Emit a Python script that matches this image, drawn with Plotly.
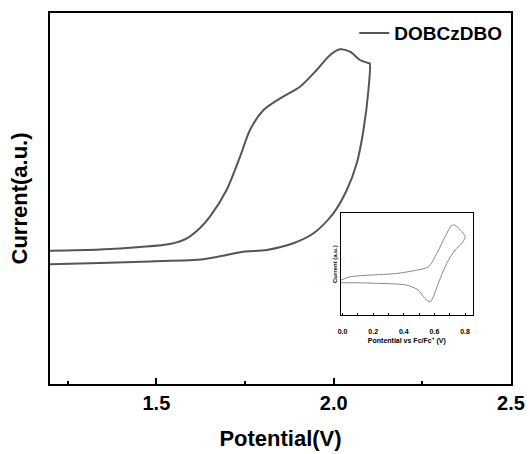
import plotly.graph_objects as go

# Main CV curve (Potential in V, current in arbitrary units)
main_potential = [1.200, 1.341, 1.454, 1.538, 1.586, 1.623, 1.651, 1.698, 1.736, 1.764,
                  1.802, 1.849, 1.905, 1.952, 1.990, 2.018, 2.046, 2.074, 2.100, 2.102,
                  2.098, 2.084, 2.065, 2.037, 1.999, 1.943, 1.886, 1.811, 1.745, 1.698,
                  1.632, 1.482, 1.341, 1.200]
main_current = [133.3, 134.5, 137.0, 140.0, 145.7, 156.0, 167.3, 194.0, 227.3, 254.0,
                274.0, 285.7, 297.3, 314.0, 329.0, 334.7, 332.3, 324.0, 320.7, 320.5,
                294.0, 254.0, 220.7, 194.0, 170.7, 150.7, 140.7, 134.0, 132.3, 129.0,
                124.7, 122.5, 121.0, 119.7]

# Inset CV vs Fc/Fc+
inset_potential = [-0.011, 0.048, 0.179, 0.353, 0.484, 0.560, 0.615, 0.669, 0.713, 0.734,
                   0.789, 0.800, 0.778, 0.734, 0.680, 0.625, 0.593, 0.571, 0.538, 0.494,
                   0.419, 0.244, 0.092, -0.011]
inset_current = [35.0, 38.3, 40.0, 41.7, 45.0, 48.3, 61.7, 78.3, 90.0, 90.0,
                 81.7, 78.3, 71.7, 65.0, 51.7, 31.7, 18.3, 13.3, 16.7, 25.0,
                 30.0, 31.7, 32.3, 32.3]

main_ticks = [1.5, 2.0, 2.5]
main_tick_labels = ["1.5", "2.0", "2.5"]
inset_ticks = [0.0, 0.2, 0.4, 0.6, 0.8]
inset_tick_labels = ["0.0", "0.2", "0.4", "0.6", "0.8"]

FONT = "Arial, Liberation Sans, sans-serif"

fig = go.Figure()
fig.add_trace(go.Scatter(x=main_potential, y=main_current, mode="lines", name="DOBCzDBO",
                         line=dict(color="#555555", width=2, shape="spline", smoothing=0.8)))
fig.add_trace(go.Scatter(x=inset_potential, y=inset_current, mode="lines", showlegend=False,
                         xaxis="x2", yaxis="y2",
                         line=dict(color="#888888", width=1, shape="spline", smoothing=0.8)))

fig.update_layout(
    width=530, height=454,
    margin=dict(l=50, r=19, t=13, b=70, autoexpand=False),
    plot_bgcolor="white", paper_bgcolor="white",
    font=dict(family=FONT, color="black"),
    showlegend=True,
    legend=dict(x=0.66, y=0.997, xanchor="left", yanchor="top",
                bgcolor="rgba(0,0,0,0)",
                font=dict(family=FONT, size=19, color="black", weight="bold")),
    xaxis=dict(range=[1.2, 2.5], showline=True, linewidth=2, linecolor="black", mirror=True,
               automargin=False,
               ticks="inside", ticklen=6, tickwidth=2, tickcolor="black",
               tickvals=main_ticks, ticktext=main_tick_labels,
               tickfont=dict(size=20, weight="bold"),
               minor=dict(tickvals=[1.25, 1.75, 2.25], ticks="inside", ticklen=3, tickwidth=2,
                          tickcolor="black"),
               showgrid=False, zeroline=False,
               title=dict(text="Potential(V)", font=dict(size=22, weight="bold"), standoff=18)),
    yaxis=dict(range=[0, 371], showline=True, linewidth=2, linecolor="black", mirror=True,
               automargin=False,
               ticks="", showticklabels=False, showgrid=False, zeroline=False,
               title=dict(text="Current(a.u.)", font=dict(size=22, weight="bold"), standoff=14)),
    xaxis2=dict(domain=[0.631, 0.917], anchor="y2", range=[-0.011, 0.85],
                showline=True, linewidth=1, linecolor="black", mirror=True,
                automargin=False,
                ticks="inside", ticklen=2, tickwidth=1, tickcolor="black",
                tickvals=inset_ticks, ticktext=inset_tick_labels,
                tickfont=dict(size=7, weight="bold"), ticklabelstandoff=10,
                minor=dict(tickvals=[0.1, 0.3, 0.5, 0.7], ticks="inside", ticklen=1.5,
                           tickwidth=1, tickcolor="black"),
                showgrid=False, zeroline=False,
                title=dict(text="Pontential vs Fc/Fc<sup>+</sup> (V)",
                           font=dict(size=7, weight="bold"), standoff=3)),
    yaxis2=dict(domain=[0.186, 0.460], anchor="x2", range=[0, 102],
                showline=True, linewidth=1, linecolor="black", mirror=True,
                automargin=False,
                ticks="", showticklabels=False, showgrid=False, zeroline=False,
                title=dict(text="Current (a.u.)", font=dict(size=6, weight="bold"), standoff=1)),
)

fig.write_html("out.html")
